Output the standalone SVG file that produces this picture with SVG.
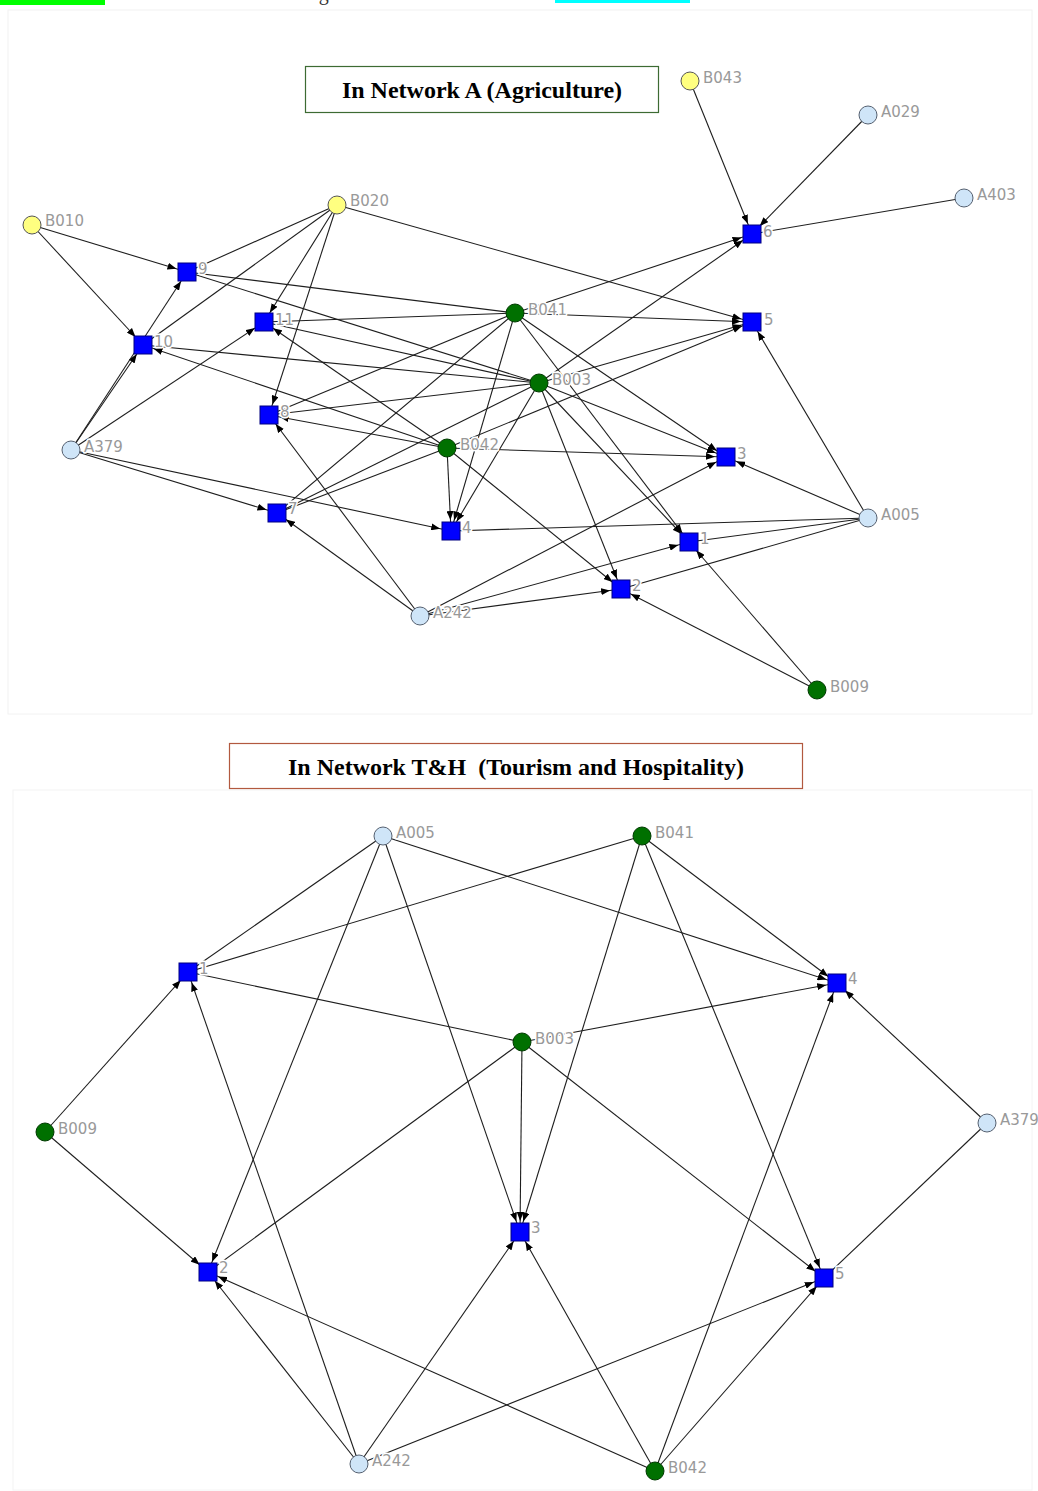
<svg xmlns="http://www.w3.org/2000/svg" width="1038" height="1491" viewBox="0 0 1038 1491">
  <defs>
    <marker id="arr" markerUnits="userSpaceOnUse" markerWidth="9" markerHeight="7" refX="20" refY="3.5" orient="auto">
      <path d="M0,0 L9,3.5 L0,7 z" fill="#000"/>
    </marker>
    <style>
      .e { stroke:#1e1e1e; stroke-width:1.1; fill:none; }
      .a { marker-end:url(#arr); }
      .ev { fill:#0000ff; stroke:#000080; stroke-width:1; }
      .yl { fill:#ffff80; stroke:#555; stroke-width:1; }
      .lb { fill:#cfe5f8; stroke:#556070; stroke-width:1; }
      .gr { fill:#007000; stroke:#003a00; stroke-width:1; }
      .lbl { font-family:"DejaVu Sans", Verdana, sans-serif; font-size:15px; fill:#999; stroke:#fff; stroke-width:3; paint-order:stroke; stroke-linejoin:round; }
      .title { font-family:"Liberation Serif", "Times New Roman", serif; font-size:24px; font-weight:bold; fill:#000; }
      .legend { font-family:"Liberation Serif", "Times New Roman", serif; font-size:20px; fill:#333; }
    </style>
  </defs>

  <rect x="0" y="0" width="1038" height="1491" fill="#fff"/>

  <!-- legend strip along the top edge -->
  <g id="legend">
    <rect x="0" y="-4" width="105" height="9" fill="#00ff00"/>
    <text class="legend" x="113" y="0" textLength="302">Local businesses - Agriculture</text>
    <rect x="555" y="-4" width="135" height="7" fill="#00ffff"/>
  </g>

  <!-- panel frames -->
  <rect x="8" y="10" width="1024" height="704" fill="none" stroke="#f2f2f2" stroke-width="1"/>
  <rect x="13" y="790" width="1019" height="700" fill="none" stroke="#f4f4f4" stroke-width="1"/>

  <!-- ===== Network A (Agriculture) ===== -->
  <g id="title-a">
    <rect x="305.5" y="66.5" width="353" height="46" fill="#fff" stroke="#3d6b33" stroke-width="1.2"/>
    <text class="title" x="482" y="98" text-anchor="middle">In Network A (Agriculture)</text>
  </g>

  <g id="connectors-a">
    <line class="e a" x1="32" y1="225" x2="187" y2="272"/>
    <line class="e a" x1="32" y1="225" x2="143" y2="345"/>
    <line class="e" x1="337" y1="205" x2="187" y2="272"/>
    <line class="e" x1="337" y1="205" x2="143" y2="345"/>
    <line class="e a" x1="337" y1="205" x2="264" y2="322"/>
    <line class="e a" x1="337" y1="205" x2="269" y2="415"/>
    <line class="e a" x1="337" y1="205" x2="752" y2="322"/>
    <line class="e a" x1="71" y1="450" x2="143" y2="345"/>
    <line class="e a" x1="71" y1="450" x2="187" y2="272"/>
    <line class="e a" x1="71" y1="450" x2="264" y2="322"/>
    <line class="e a" x1="71" y1="450" x2="277" y2="513"/>
    <line class="e a" x1="71" y1="450" x2="451" y2="531"/>
    <line class="e a" x1="420" y1="616" x2="277" y2="513"/>
    <line class="e a" x1="420" y1="616" x2="269" y2="415"/>
    <line class="e a" x1="420" y1="616" x2="621" y2="589"/>
    <line class="e a" x1="420" y1="616" x2="689" y2="542"/>
    <line class="e a" x1="420" y1="616" x2="726" y2="457"/>
    <line class="e a" x1="817" y1="690" x2="621" y2="589"/>
    <line class="e a" x1="817" y1="690" x2="689" y2="542"/>
    <line class="e a" x1="868" y1="518" x2="726" y2="457"/>
    <line class="e a" x1="868" y1="518" x2="752" y2="322"/>
    <line class="e" x1="868" y1="518" x2="451" y2="531"/>
    <line class="e" x1="868" y1="518" x2="689" y2="542"/>
    <line class="e" x1="868" y1="518" x2="621" y2="589"/>
    <line class="e a" x1="690" y1="81" x2="752" y2="234"/>
    <line class="e a" x1="868" y1="115" x2="752" y2="234"/>
    <line class="e" x1="964" y1="198" x2="752" y2="234"/>
    <!-- B041 -->
    <line class="e a" x1="515" y1="313" x2="752" y2="234"/>
    <line class="e a" x1="515" y1="313" x2="752" y2="322"/>
    <line class="e a" x1="515" y1="313" x2="451" y2="531"/>
    <line class="e a" x1="515" y1="313" x2="726" y2="457"/>
    <line class="e a" x1="515" y1="313" x2="689" y2="542"/>
    <line class="e" x1="515" y1="313" x2="187" y2="272"/>
    <line class="e" x1="515" y1="313" x2="264" y2="322"/>
    <line class="e" x1="515" y1="313" x2="269" y2="415"/>
    <line class="e" x1="515" y1="313" x2="277" y2="513"/>
    <!-- B003 -->
    <line class="e a" x1="539" y1="383" x2="752" y2="234"/>
    <line class="e a" x1="539" y1="383" x2="752" y2="322"/>
    <line class="e a" x1="539" y1="383" x2="451" y2="531"/>
    <line class="e a" x1="539" y1="383" x2="726" y2="457"/>
    <line class="e a" x1="539" y1="383" x2="689" y2="542"/>
    <line class="e a" x1="539" y1="383" x2="621" y2="589"/>
    <line class="e" x1="539" y1="383" x2="143" y2="345"/>
    <line class="e" x1="539" y1="383" x2="187" y2="272"/>
    <line class="e" x1="539" y1="383" x2="264" y2="322"/>
    <line class="e" x1="539" y1="383" x2="269" y2="415"/>
    <line class="e" x1="539" y1="383" x2="277" y2="513"/>
    <!-- B042 -->
    <line class="e a" x1="447" y1="448" x2="451" y2="531"/>
    <line class="e a" x1="447" y1="448" x2="726" y2="457"/>
    <line class="e a" x1="447" y1="448" x2="621" y2="589"/>
    <line class="e a" x1="447" y1="448" x2="752" y2="322"/>
    <line class="e a" x1="447" y1="448" x2="143" y2="345"/>
    <line class="e a" x1="447" y1="448" x2="264" y2="322"/>
    <line class="e a" x1="447" y1="448" x2="269" y2="415"/>
    <line class="e" x1="447" y1="448" x2="277" y2="513"/>
  </g>

  <g id="nodes-a">
    <g id="a-B043"><circle class="yl" cx="690" cy="81" r="9"/><text class="lbl" x="703" y="83">B043</text></g>
    <g id="a-A029"><circle class="lb" cx="868" cy="115" r="9"/><text class="lbl" x="881" y="117">A029</text></g>
    <g id="a-A403"><circle class="lb" cx="964" cy="198" r="9"/><text class="lbl" x="977" y="200">A403</text></g>
    <g id="a-B020"><circle class="yl" cx="337" cy="205" r="9"/><text class="lbl" x="350" y="206">B020</text></g>
    <g id="a-B010"><circle class="yl" cx="32" cy="225" r="9"/><text class="lbl" x="45" y="226">B010</text></g>
    <g id="a-A379"><circle class="lb" cx="71" cy="450" r="9"/><text class="lbl" x="84" y="452">A379</text></g>
    <g id="a-A005"><circle class="lb" cx="868" cy="518" r="9"/><text class="lbl" x="881" y="520">A005</text></g>
    <g id="a-A242"><circle class="lb" cx="420" cy="616" r="9"/><text class="lbl" x="433" y="618">A242</text></g>
    <g id="a-B041"><circle class="gr" cx="515" cy="313" r="9"/><text class="lbl" x="528" y="315">B041</text></g>
    <g id="a-B003"><circle class="gr" cx="539" cy="383" r="9"/><text class="lbl" x="552" y="385">B003</text></g>
    <g id="a-B042"><circle class="gr" cx="447" cy="448" r="9"/><text class="lbl" x="460" y="450">B042</text></g>
    <g id="a-B009"><circle class="gr" cx="817" cy="690" r="9"/><text class="lbl" x="830" y="692">B009</text></g>
    <g id="a-e6"><rect class="ev" x="743" y="225" width="18" height="18"/><text class="lbl" x="763" y="237">6</text></g>
    <g id="a-e9"><rect class="ev" x="178" y="263" width="18" height="18"/><text class="lbl" x="198" y="274">9</text></g>
    <g id="a-e11"><rect class="ev" x="255" y="313" width="18" height="18"/><text class="lbl" x="275" y="325">11</text></g>
    <g id="a-e5"><rect class="ev" x="743" y="313" width="18" height="18"/><text class="lbl" x="764" y="325">5</text></g>
    <g id="a-e10"><rect class="ev" x="134" y="336" width="18" height="18"/><text class="lbl" x="154" y="347">10</text></g>
    <g id="a-e8"><rect class="ev" x="260" y="406" width="18" height="18"/><text class="lbl" x="280" y="417">8</text></g>
    <g id="a-e3"><rect class="ev" x="717" y="448" width="18" height="18"/><text class="lbl" x="737" y="459">3</text></g>
    <g id="a-e7"><rect class="ev" x="268" y="504" width="18" height="18"/><text class="lbl" x="288" y="514">7</text></g>
    <g id="a-e4"><rect class="ev" x="442" y="522" width="18" height="18"/><text class="lbl" x="462" y="533">4</text></g>
    <g id="a-e1"><rect class="ev" x="680" y="533" width="18" height="18"/><text class="lbl" x="700" y="544">1</text></g>
    <g id="a-e2"><rect class="ev" x="612" y="580" width="18" height="18"/><text class="lbl" x="632" y="591">2</text></g>
  </g>

  <!-- ===== Network T&H (Tourism and Hospitality) ===== -->
  <g id="title-th">
    <rect x="229.5" y="743.5" width="573" height="45" fill="#fff" stroke="#b2593f" stroke-width="1.2"/>
    <text class="title" x="516" y="775" text-anchor="middle" xml:space="preserve" style="white-space:pre">In Network T&amp;H  (Tourism and Hospitality)</text>
  </g>

  <g id="connectors-th">
    <line class="e" x1="383" y1="836" x2="188" y2="972"/>
    <line class="e" x1="642" y1="836" x2="188" y2="972"/>
    <line class="e" x1="522" y1="1042" x2="188" y2="972"/>
    <line class="e a" x1="45" y1="1132" x2="188" y2="972"/>
    <line class="e a" x1="359" y1="1464" x2="188" y2="972"/>
    <line class="e a" x1="383" y1="836" x2="208" y2="1272"/>
    <line class="e a" x1="383" y1="836" x2="520" y2="1232"/>
    <line class="e a" x1="383" y1="836" x2="837" y2="983"/>
    <line class="e a" x1="642" y1="836" x2="837" y2="983"/>
    <line class="e a" x1="642" y1="836" x2="520" y2="1232"/>
    <line class="e a" x1="642" y1="836" x2="824" y2="1278"/>
    <line class="e a" x1="522" y1="1042" x2="837" y2="983"/>
    <line class="e a" x1="522" y1="1042" x2="520" y2="1232"/>
    <line class="e a" x1="522" y1="1042" x2="824" y2="1278"/>
    <line class="e" x1="522" y1="1042" x2="208" y2="1272"/>
    <line class="e a" x1="987" y1="1123" x2="837" y2="983"/>
    <line class="e" x1="987" y1="1123" x2="824" y2="1278"/>
    <line class="e a" x1="45" y1="1132" x2="208" y2="1272"/>
    <line class="e a" x1="359" y1="1464" x2="208" y2="1272"/>
    <line class="e a" x1="359" y1="1464" x2="520" y2="1232"/>
    <line class="e a" x1="359" y1="1464" x2="824" y2="1278"/>
    <line class="e a" x1="655" y1="1471" x2="208" y2="1272"/>
    <line class="e a" x1="655" y1="1471" x2="520" y2="1232"/>
    <line class="e a" x1="655" y1="1471" x2="837" y2="983"/>
    <line class="e a" x1="655" y1="1471" x2="824" y2="1278"/>
  </g>

  <g id="nodes-th">
    <g id="t-A005"><circle class="lb" cx="383" cy="836" r="9"/><text class="lbl" x="396" y="838">A005</text></g>
    <g id="t-B041"><circle class="gr" cx="642" cy="836" r="9"/><text class="lbl" x="655" y="838">B041</text></g>
    <g id="t-B003"><circle class="gr" cx="522" cy="1042" r="9"/><text class="lbl" x="535" y="1044">B003</text></g>
    <g id="t-B009"><circle class="gr" cx="45" cy="1132" r="9"/><text class="lbl" x="58" y="1134">B009</text></g>
    <g id="t-A379"><circle class="lb" cx="987" cy="1123" r="9"/><text class="lbl" x="1000" y="1125">A379</text></g>
    <g id="t-A242"><circle class="lb" cx="359" cy="1464" r="9"/><text class="lbl" x="372" y="1466">A242</text></g>
    <g id="t-B042"><circle class="gr" cx="655" cy="1471" r="9"/><text class="lbl" x="668" y="1473">B042</text></g>
    <g id="t-e1"><rect class="ev" x="179" y="963" width="18" height="18"/><text class="lbl" x="199" y="974">1</text></g>
    <g id="t-e4"><rect class="ev" x="828" y="974" width="18" height="18"/><text class="lbl" x="848" y="984">4</text></g>
    <g id="t-e3"><rect class="ev" x="511" y="1223" width="18" height="18"/><text class="lbl" x="531" y="1233">3</text></g>
    <g id="t-e2"><rect class="ev" x="199" y="1263" width="18" height="18"/><text class="lbl" x="219" y="1273">2</text></g>
    <g id="t-e5"><rect class="ev" x="815" y="1269" width="18" height="18"/><text class="lbl" x="835" y="1279">5</text></g>
  </g>
</svg>
